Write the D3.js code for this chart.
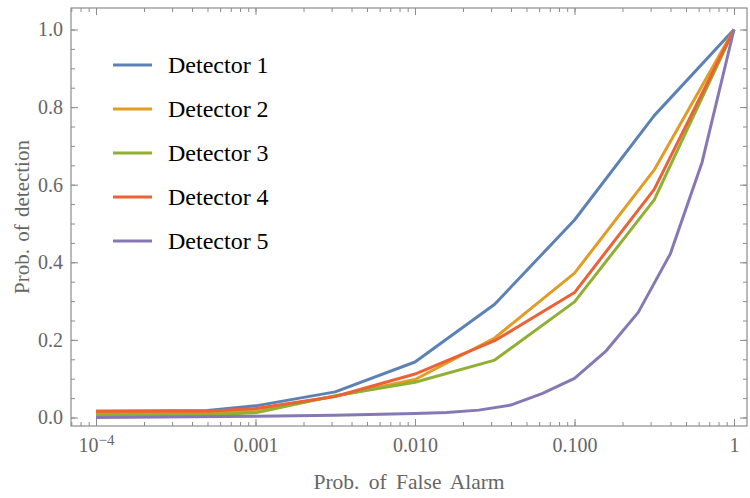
<!DOCTYPE html>
<html>
<head>
<meta charset="utf-8">
<script src="https://cdn.jsdelivr.net/npm/d3@7"></script>
<style>
  body { margin: 0; background: #fff; }
  svg { display: block; }
</style>
</head>
<body>
<svg id="chart" width="750" height="498"></svg>
<script>
// false alarm probabilities (x) for detectors 1-4, and the finer grid of detector 5
var faMain = [1e-4, 5e-4, 1e-3, 0.00316, 0.01, 0.0316, 0.1, 0.316, 1];
var faFine = [1e-4, 1e-3, 0.00316, 0.01, 0.0158, 0.0251, 0.0398, 0.0631, 0.1, 0.158, 0.251, 0.398, 0.631, 1];

// detection probabilities
var det1 = [0.016, 0.018, 0.030, 0.066, 0.143, 0.292, 0.509, 0.778, 1.0];
var det2 = [0.012, 0.012, 0.019, 0.055, 0.098, 0.205, 0.372, 0.638, 1.0];
var det3 = [0.007, 0.007, 0.012, 0.056, 0.091, 0.148, 0.298, 0.561, 1.0];
var det4 = [0.016, 0.016, 0.023, 0.054, 0.112, 0.198, 0.322, 0.588, 1.0];
var det5 = [0.000, 0.003, 0.006, 0.010, 0.013, 0.019, 0.032, 0.062, 0.101, 0.172, 0.271, 0.421, 0.658, 1.0];

var names = ["Detector 1", "Detector 2", "Detector 3", "Detector 4", "Detector 5"];
var colors = ["#5E81B5", "#E19C24", "#8FB032", "#EB6235", "#8778B3"];

// x tick labels (major)
var xMajor = [1e-4, 1e-3, 1e-2, 1e-1, 1];
var xMajorLabels = ["10", "0.001", "0.010", "0.100", "1"];
var yMajor = [0, 0.2, 0.4, 0.6, 0.8, 1.0];

var series = [
    { x: faMain, y: det1 },
    { x: faMain, y: det2 },
    { x: faMain, y: det3 },
    { x: faMain, y: det4 },
    { x: faFine, y: det5 }
];

var serif = '"Liberation Serif", "DejaVu Serif", serif';
var svg = d3.select('#chart').attr('font-family', serif);

// frame box
var frame = { left: 71, right: 747, top: 8, bottom: 426 };

var x = d3.scaleLog().domain([1e-4, 1]).range([96, 734]);
var y = d3.scaleLinear().domain([0, 1]).range([417.5, 29.5]);

var gray = '#8c8c8c';
var textGray = '#666';

// minor ticks
var xLo = x.invert(frame.left), xHi = x.invert(frame.right);
var xMinor = [];
for (var e = -5; e <= 0; e++) {
    for (var k = 1; k <= 9; k++) {
        var v = k * Math.pow(10, e);
        if (v >= xLo && v <= xHi) xMinor.push(v);
    }
}
var yMinor = d3.range(0, 21).map(function (i) { return i * 0.05; })
    .filter(function (v) { return y(v) >= frame.top && y(v) <= frame.bottom; });

function styleAxis(g) {
    g.attr('font-family', serif);
    g.select('.domain').remove();
    g.selectAll('line').attr('stroke', gray).attr('stroke-width', 1);
    g.selectAll('text').attr('fill', textGray).attr('font-family', serif);
}

// bottom axis (inward ticks)
svg.append('g').attr('transform', 'translate(0,' + frame.bottom + ')')
    .call(d3.axisBottom(x).tickValues(xMinor).tickSize(-4).tickFormat(''))
    .call(styleAxis);
var xAxisG = svg.append('g').attr('transform', 'translate(0,' + frame.bottom + ')')
    .call(d3.axisBottom(x).tickValues(xMajor).tickSize(-7).tickPadding(12)
        .tickFormat(function (d, i) { return xMajorLabels[i]; }))
    .call(styleAxis);
xAxisG.selectAll('text').attr('font-size', 20);
// superscript for 10^-4
xAxisG.selectAll('text').filter(function (d) { return d === 1e-4; })
    .append('tspan').attr('dy', '-0.45em').attr('font-size', 15).text('\u22124');

// top axis (ticks only)
svg.append('g').attr('transform', 'translate(0,' + frame.top + ')')
    .call(d3.axisTop(x).tickValues(xMinor).tickSize(-4).tickFormat(''))
    .call(styleAxis);
svg.append('g').attr('transform', 'translate(0,' + frame.top + ')')
    .call(d3.axisTop(x).tickValues(xMajor).tickSize(-7).tickFormat(''))
    .call(styleAxis);

// left axis
svg.append('g').attr('transform', 'translate(' + frame.left + ',0)')
    .call(d3.axisLeft(y).tickValues(yMinor).tickSize(-4).tickFormat(''))
    .call(styleAxis);
var yAxisG = svg.append('g').attr('transform', 'translate(' + frame.left + ',0)')
    .call(d3.axisLeft(y).tickValues(yMajor).tickSize(-7).tickPadding(8).tickFormat(d3.format('.1f')))
    .call(styleAxis);
yAxisG.selectAll('text').attr('font-size', 20);

// right axis (ticks only)
svg.append('g').attr('transform', 'translate(' + frame.right + ',0)')
    .call(d3.axisRight(y).tickValues(yMinor).tickSize(-4).tickFormat(''))
    .call(styleAxis);
svg.append('g').attr('transform', 'translate(' + frame.right + ',0)')
    .call(d3.axisRight(y).tickValues(yMajor).tickSize(-7).tickFormat(''))
    .call(styleAxis);

// frame
svg.append('rect')
    .attr('x', frame.left).attr('y', frame.top)
    .attr('width', frame.right - frame.left).attr('height', frame.bottom - frame.top)
    .attr('fill', 'none').attr('stroke', gray).attr('stroke-width', 1.2);

// curves
var line = d3.line()
    .x(function (d) { return x(d[0]); })
    .y(function (d) { return y(d[1]); });

svg.append('g').attr('class', 'curves')
    .selectAll('path')
    .data(series)
    .enter().append('path')
    .attr('d', function (s) { return line(d3.zip(s.x, s.y)); })
    .attr('fill', 'none')
    .attr('stroke', function (s, i) { return colors[i]; })
    .attr('stroke-width', 3)
    .attr('stroke-linejoin', 'round');

// legend
var legend = svg.append('g').attr('class', 'legend');
var rows = legend.selectAll('g').data(names).enter().append('g')
    .attr('transform', function (d, i) { return 'translate(113,' + (65 + i * 44) + ')'; });
rows.append('line')
    .attr('x1', 0).attr('x2', 39).attr('y1', 0).attr('y2', 0)
    .attr('stroke', function (d, i) { return colors[i]; })
    .attr('stroke-width', 3);
rows.append('text')
    .attr('x', 55).attr('y', 0).attr('dy', '0.33em')
    .attr('font-family', serif)
    .attr('font-size', 24).attr('fill', '#000')
    .text(function (d) { return d; });

// axis titles
svg.append('text')
    .attr('x', (frame.left + frame.right) / 2).attr('y', 489)
    .attr('text-anchor', 'middle').attr('font-size', 21.5).attr('fill', textGray)
    .attr('font-family', serif).attr('word-spacing', '4px')
    .text('Prob. of False Alarm');
svg.append('text')
    .attr('transform', 'translate(29,' + ((frame.top + frame.bottom) / 2) + ') rotate(-90)')
    .attr('text-anchor', 'middle').attr('font-size', 21).attr('fill', textGray)
    .attr('font-family', serif).attr('word-spacing', '2px')
    .text('Prob. of detection');
</script>
</body>
</html>
